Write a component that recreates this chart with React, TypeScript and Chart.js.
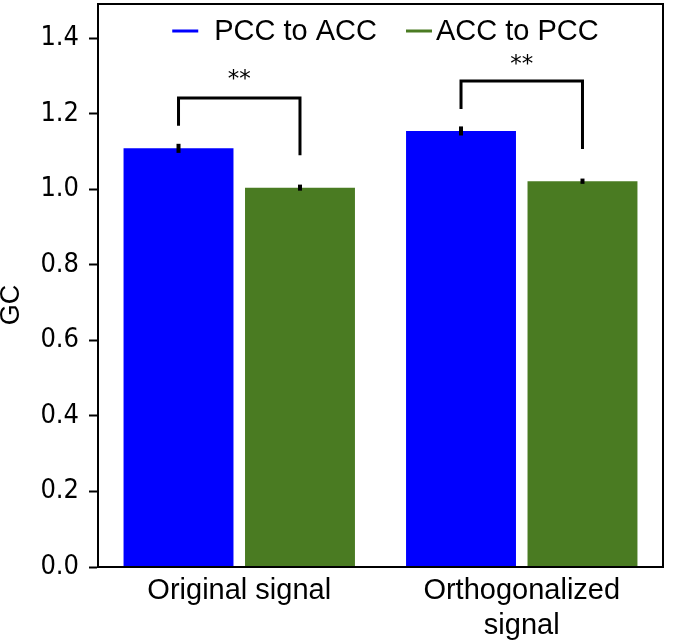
import React, { useEffect, useRef } from "react";
import { Chart, registerables } from "chart.js";

Chart.register(...registerables);

const categories: (string | string[])[] = ["Original signal", ["Orthogonalized", "signal"]];
const seriesLabels = ["PCC to ACC", "ACC to PCC"];
const pccToAcc = [1.108, 1.154];
const accToPcc = [1.004, 1.021];
const pccToAccErr = [0.012, 0.012];
const accToPccErr = [0.008, 0.007];
const seriesColors = ["#0000ff", "#4a7b22"];
const bracketLeftBottom = [1.168, 1.212];
const bracketTop = [1.241, 1.286];
const bracketRightBottom = [1.09, 1.106];
const starLabelY = [1.3, 1.34];
const sigLabels = ["**", "**"];
const yTicks = [0, 0.2, 0.4, 0.6, 0.8, 1.0, 1.2, 1.4];
const yTitle = "GC";

const overlayPlugin = {
  id: "overlay",
  afterDatasetsDraw(chart: any) {
    const ctx = chart.ctx;
    const y = chart.scales.y;
    const area = chart.chartArea;
    ctx.save();
    // error bars
    const errs = [pccToAccErr, accToPccErr];
    chart.data.datasets.forEach((ds: any, di: number) => {
      const meta = chart.getDatasetMeta(di);
      meta.data.forEach((bar: any, i: number) => {
        const v = ds.data[i];
        const e = errs[di][i];
        ctx.strokeStyle = "#000";
        ctx.lineWidth = 4;
        ctx.beginPath();
        ctx.moveTo(bar.x, y.getPixelForValue(v - e));
        ctx.lineTo(bar.x, y.getPixelForValue(v + e));
        ctx.stroke();
      });
    });
    // brackets
    const m0 = chart.getDatasetMeta(0);
    const m1 = chart.getDatasetMeta(1);
    for (let i = 0; i < categories.length; i++) {
      const xl = m0.data[i].x;
      const xr = m1.data[i].x;
      ctx.strokeStyle = "#000";
      ctx.lineWidth = 3;
      ctx.lineJoin = "miter";
      ctx.beginPath();
      ctx.moveTo(xl, y.getPixelForValue(bracketLeftBottom[i]));
      ctx.lineTo(xl, y.getPixelForValue(bracketTop[i]));
      ctx.lineTo(xr, y.getPixelForValue(bracketTop[i]));
      ctx.lineTo(xr, y.getPixelForValue(bracketRightBottom[i]));
      ctx.stroke();
      ctx.fillStyle = "#000";
      ctx.font = "23px 'DejaVu Sans'";
      ctx.textAlign = "center";
      ctx.textBaseline = "middle";
      ctx.fillText(sigLabels[i], (xl + xr) / 2, y.getPixelForValue(starLabelY[i]) + 4);
    }
    // frame
    ctx.strokeStyle = "#000";
    ctx.lineWidth = 2;
    ctx.strokeRect(area.left, area.top, area.right - area.left, area.bottom - area.top);
    // y title
    ctx.save();
    ctx.translate(12, 305);
    ctx.rotate(-Math.PI / 2);
    ctx.font = "27px 'Liberation Sans'";
    ctx.textAlign = "center";
    ctx.textBaseline = "middle";
    ctx.fillStyle = "#000";
    ctx.fillText(yTitle, 0, 0);
    ctx.restore();
    // legend
    ctx.font = "29px 'Liberation Sans'";
    ctx.textBaseline = "middle";
    ctx.textAlign = "left";
    const legendY = area.top + 27;
    const lineLen = 26;
    const gapLineText = [16, 4];
    const itemGap = 29;
    const widths = seriesLabels.map((t) => ctx.measureText(t).width);
    const total =
      widths.reduce((a, w, i) => a + lineLen + gapLineText[i] + w, 0) + itemGap * (seriesLabels.length - 1);
    let x = (area.left + area.right) / 2 - total / 2 + 5;
    seriesLabels.forEach((t, i) => {
      ctx.strokeStyle = seriesColors[i];
      ctx.lineWidth = 3;
      ctx.beginPath();
      ctx.moveTo(x, legendY);
      ctx.lineTo(x + lineLen, legendY);
      ctx.stroke();
      ctx.fillStyle = "#000";
      ctx.fillText(t, x + lineLen + gapLineText[i], legendY + 1);
      x += lineLen + gapLineText[i] + widths[i] + itemGap;
    });
    ctx.restore();
  },
};

export default function App() {
  const ref = useRef<HTMLCanvasElement | null>(null);
  useEffect(() => {
    document.body.style.margin = "0";
    const canvas = ref.current!;
    const chart = new Chart(canvas, {
      type: "bar",
      data: {
        labels: categories as any,
        datasets: [
          {
            label: seriesLabels[0],
            data: pccToAcc,
            backgroundColor: seriesColors[0],
            categoryPercentage: 0.86,
            barPercentage: 0.905,
          },
          {
            label: seriesLabels[1],
            data: accToPcc,
            backgroundColor: seriesColors[1],
            categoryPercentage: 0.86,
            barPercentage: 0.905,
          },
        ],
      },
      options: {
        responsive: false,
        animation: false,
        devicePixelRatio: 1,
        layout: { padding: { top: 4, right: 14, left: 0, bottom: 0 } },
        plugins: {
          legend: { display: false },
          tooltip: { enabled: false },
        },
        scales: {
          x: {
            grid: { display: false, drawTicks: false },
            border: { display: true, color: "#000", width: 2 },
            ticks: {
              color: "#000",
              font: { family: "'Liberation Sans'", size: 29 },
              padding: 7,
              maxRotation: 0,
              autoSkip: false,
            },
            afterFit(scale: any) {
              scale.height = 74;
              scale.paddingLeft = 0;
              scale.paddingRight = 0;
            },
          },
          y: {
            min: 0,
            max: 1.49,
            afterBuildTicks(scale: any) {
              scale.ticks = yTicks.map((v) => ({ value: v }));
            },
            grid: {
              drawOnChartArea: false,
              drawTicks: true,
              tickLength: 9,
              tickWidth: 2,
              tickColor: "#000",
            },
            border: { display: true, color: "#000", width: 2 },
            ticks: {
              color: "#000",
              font: { family: "'DejaVu Sans Condensed', 'DejaVu Sans'", size: 27 },
              padding: 10,
              callback: (v: any) => Number(v).toFixed(1),
            },
            afterFit(scale: any) {
              scale.width = 98;
              scale.paddingTop = 0;
              scale.paddingBottom = 0;
            },
          },
        },
      },
      plugins: [overlayPlugin],
    });
    return () => chart.destroy();
  }, []);
  return <canvas ref={ref} width={677} height={641} style={{ display: "block" }} />;
}
